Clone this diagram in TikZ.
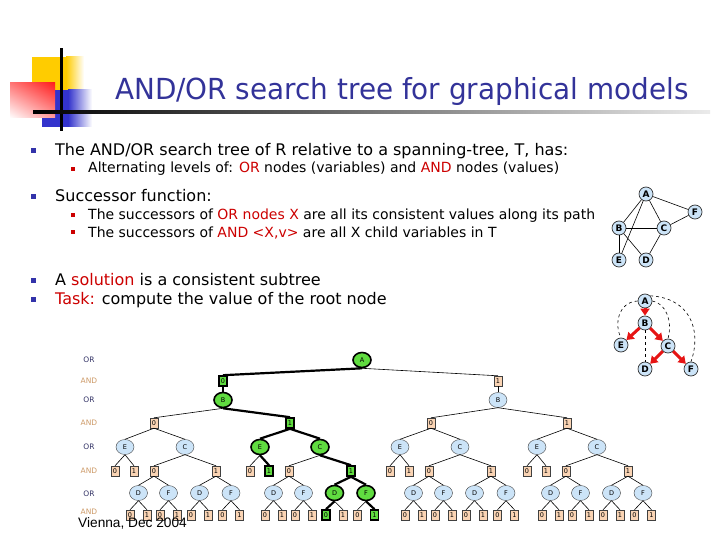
\documentclass[tikz,border=0pt]{standalone}
\usepackage{fontspec}
\setmainfont{DejaVu Sans}
\newfontfamily\titlefont[FakeStretch=0.96]{DejaVu Sans}
\newfontfamily\datefont{Liberation Sans}
\usetikzlibrary{positioning, shapes.geometric, arrows.meta, shadings}
\definecolor{TitleBlue}{RGB}{51, 51, 153}
\definecolor{BulletBlue}{RGB}{51, 51, 170}
\definecolor{HiRed}{RGB}{204, 0, 0}
\definecolor{OrFill}{RGB}{204, 228, 248}
\definecolor{AndFill}{RGB}{250, 212, 180}
\definecolor{SolGreen}{RGB}{96, 220, 64}
\definecolor{OrLabel}{RGB}{51, 51, 102}
\definecolor{AndLabel}{RGB}{204, 153, 102}
\definecolor{ArrowRed}{RGB}{230, 20, 20}
\definecolor{DecoYellow}{RGB}{255, 204, 0}
\definecolor{DecoBlue}{RGB}{51, 51, 204}
\definecolor{DecoRed}{RGB}{255, 30, 30}

\begin{document}
\begin{tikzpicture}[x=1pt, y=-1pt,
    ornode/.style={ellipse, draw=black!75, fill=OrFill, minimum width=18pt, minimum height=15pt, inner sep=0pt, font=\fontsize{6.5}{6.5}\selectfont},
    ornodesol/.style={ornode, draw=black, line width=1.6pt, fill=SolGreen},
    andnode/.style={rectangle, draw=black!75, fill=AndFill, minimum width=8pt, minimum height=10pt, inner sep=0pt, font=\fontsize{6.5}{6.5}\selectfont},
    andnodesol/.style={andnode, draw=black, line width=1.6pt, fill=SolGreen},
    treeline/.style={line width=0.6pt},
    solline/.style={line width=2.2pt},
    levellabel/.style={font=\fontsize{7.5}{8}\selectfont},
    gnode/.style={circle, draw=black!80, line width=0.7pt, fill=OrFill, minimum size=14pt, inner sep=0pt, font=\bfseries\fontsize{9}{9}\selectfont},
    graphedge/.style={line width=0.6pt},
    redarrow/.style={-{Triangle[length=7pt, width=9pt]}, line width=3pt, ArrowRed},
    backedge/.style={dashed, line width=0.6pt},
    bodytext/.style={anchor=base west, inner sep=0pt, font=\fontsize{16}{18}\selectfont},
    subtext/.style={anchor=base west, inner sep=0pt, font=\fontsize{14}{16}\selectfont}]
    \useasboundingbox (0,0) rectangle (720,540);

    % Corner decoration
    \fill[DecoYellow] (32,57) rectangle (66,90);
    \shade[left color=DecoYellow, right color=white] (66,57) rectangle (84,90);
    \fill[DecoBlue] (42,90) rectangle (68,127);
    \shade[left color=DecoBlue, right color=white] (68,90) rectangle (92,127);
    \shade[upper left=DecoRed!60, upper right=DecoRed, lower left=white, lower right=DecoRed!45] (10,83) rectangle (55,118);
    \fill[black] (60,48) rectangle (62.5,131);
    \shade[left color=black, middle color=black!75, right color=black!8] (33,111) rectangle (710,113.5);

    % Title
    \node[anchor=base west, inner sep=0pt, text=TitleBlue, font=\titlefont\fontsize{29}{30}\selectfont] (title) at (115,100) {AND/OR search tree for graphical models};

    % Bullets
    \foreach \y in {151, 197, 280, 299}
        \fill[BulletBlue] (30.5,\y-2.5) rectangle ++(5,5);
    \foreach \y in {169, 215, 232}
        \fill[HiRed] (70.5,\y-2) rectangle ++(4,4);

    % Text
    \node[bodytext] (t1) at (55,156) {The AND/OR search tree of R relative to a spanning-tree, T, has:};
    \node[subtext] (t1a) at (88,173) {Alternating levels of: \textcolor{HiRed}{OR} nodes (variables) and \textcolor{HiRed}{AND} nodes (values)};
    \node[bodytext] (t2) at (55,202) {Successor function:};
    \node[subtext] (t2a) at (88,220) {The successors of \textcolor{HiRed}{OR nodes X} are all its consistent values along its path};
    \node[subtext] (t2b) at (88,237) {The successors of \textcolor{HiRed}{AND <X,v>} are all X child variables in T};
    \node[bodytext] (t3) at (55,285) {A \textcolor{HiRed}{solution} is a consistent subtree};
    \node[bodytext] (t4) at (55,304) {\textcolor{HiRed}{Task:} compute the value of the root node};

    % Primal graph
    \node[gnode] (gA) at (646,194) {A};
    \node[gnode] (gF) at (695,212) {F};
    \node[gnode] (gB) at (619,228) {B};
    \node[gnode] (gC) at (664,228) {C};
    \node[gnode] (gE) at (619,260) {E};
    \node[gnode] (gD) at (646,260) {D};
    \draw[graphedge] (gA) -- (gB);
    \draw[graphedge] (gA) -- (gC);
    \draw[graphedge] (gA) -- (gF);
    \draw[graphedge] (gA) -- (gE);
    \draw[graphedge] (gB) -- (gC);
    \draw[graphedge] (gB) -- (gE);
    \draw[graphedge] (gB) -- (gD);
    \draw[graphedge] (gC) -- (gD);
    \draw[graphedge] (gC) -- (gF);

    % Pseudo tree
    \node[gnode] (pA) at (645,301) {A};
    \node[gnode] (pB) at (645,323) {B};
    \node[gnode] (pE) at (621,345) {E};
    \node[gnode] (pC) at (668,346) {C};
    \node[gnode] (pD) at (645,369) {D};
    \node[gnode] (pF) at (691,369) {F};
    \draw[backedge] (pA.west) .. controls (618,302) and (614,325) .. (pE.north);
    \draw[backedge] (pA.east) .. controls (665,303) and (673,320) .. (pC.north);
    \draw[backedge] (pA.north east) .. controls (690,298) and (702,330) .. (pF.north);
    \draw[backedge] (pB.south) -- (pD.north);
    \draw[redarrow] (pA) -- (pB);
    \draw[redarrow] (pB) -- (pE);
    \draw[redarrow] (pB) -- (pC);
    \draw[redarrow] (pC) -- (pD);
    \draw[redarrow] (pC) -- (pF);

    % Level labels
    \foreach \y/\t/\c in {360/OR/OrLabel, 381/AND/AndLabel, 400/OR/OrLabel, 423/AND/AndLabel,
                          447/OR/OrLabel, 471/AND/AndLabel, 494/OR/OrLabel, 512/AND/AndLabel}
        \node[levellabel, text=\c] (lev\y) at (89,\y) {\t};

    % Top of the AND/OR tree
    \node[ornodesol] (A) at (362,360) {A};
    \node[andnodesol] (a0) at (223,381) {0};
    \node[andnode] (a1) at (498,381) {1};
    \node[ornodesol] (bl) at (223,400) {B};
    \node[ornode] (br) at (498,400) {B};
    \node[andnode] (bl0) at (154,423) {0};
    \node[andnodesol] (bl1) at (290,423) {1};
    \node[andnode] (br0) at (431,423) {0};
    \node[andnode] (br1) at (567,423) {1};
    \draw[solline] (A.south) -- (a0.north);
    \draw[treeline] (A.south) -- (a1.north);
    \draw[solline] (a0) -- (bl);
    \draw[treeline] (a1) -- (br);
    \draw[treeline] (bl.south) -- (bl0.north);
    \draw[solline] (bl.south) -- (bl1.north);
    \draw[treeline] (br.south) -- (br0.north);
    \draw[treeline] (br.south) -- (br1.north);

    % Subtrees below E and C
    \foreach \g/\e/\p in {a/125/bl0, c/400/br0, d/537/br1} {
        \node[ornode] (\g-E) at (\e,447) {E};
        \node[ornode] (\g-C) at (\e+60,447) {C};
        \node[andnode] (\g-E0) at (\e-10,471) {0};
        \node[andnode] (\g-E1) at (\e+9,471) {1};
        \node[andnode] (\g-C0) at (\e+29,471) {0};
        \node[andnode] (\g-C1) at (\e+91,471) {1};
        \draw[treeline] (\p.south) -- (\g-E.north);
        \draw[treeline] (\p.south) -- (\g-C.north);
        \draw[treeline] (\g-E.south) -- (\g-E0.north);
        \draw[treeline] (\g-E.south) -- (\g-E1.north);
        \draw[treeline] (\g-C.south) -- (\g-C0.north);
        \draw[treeline] (\g-C.south) -- (\g-C1.north);
        \foreach \k/\d/\f in {0/13.5/43.5, 1/74.5/106} {
            \node[ornode] (\g-D\k) at (\e+\d,493) {D};
            \node[ornode] (\g-F\k) at (\e+\f,493) {F};
            \node[andnode] (\g-D\k-0) at (\e+\d-8.5,515) {0};
            \node[andnode] (\g-D\k-1) at (\e+\d+8.5,515) {1};
            \node[andnode] (\g-F\k-0) at (\e+\f-8.5,515) {0};
            \node[andnode] (\g-F\k-1) at (\e+\f+8.5,515) {1};
            \draw[treeline] (\g-C\k.south) -- (\g-D\k.north);
            \draw[treeline] (\g-C\k.south) -- (\g-F\k.north);
            \draw[treeline] (\g-D\k.south) -- (\g-D\k-0.north);
            \draw[treeline] (\g-D\k.south) -- (\g-D\k-1.north);
            \draw[treeline] (\g-F\k.south) -- (\g-F\k-0.north);
            \draw[treeline] (\g-F\k.south) -- (\g-F\k-1.north);
        }
    }

    % Solution subtree
    \node[ornodesol] (b-E) at (260,447) {E};
    \node[ornodesol] (b-C) at (320,447) {C};
    \node[andnode] (b-E0) at (250,471) {0};
    \node[andnodesol] (b-E1) at (269,471) {1};
    \node[andnode] (b-C0) at (289,471) {0};
    \node[andnodesol] (b-C1) at (351,471) {1};
    \node[ornode] (b-D0) at (273.5,493) {D};
    \node[ornode] (b-F0) at (303.5,493) {F};
    \node[ornodesol] (b-D1) at (334.5,493) {D};
    \node[ornodesol] (b-F1) at (366,493) {F};
    \node[andnode] (b-D0-0) at (265,515) {0};
    \node[andnode] (b-D0-1) at (282,515) {1};
    \node[andnode] (b-F0-0) at (295,515) {0};
    \node[andnode] (b-F0-1) at (312,515) {1};
    \node[andnodesol] (b-D1-0) at (326,515) {0};
    \node[andnode] (b-D1-1) at (343,515) {1};
    \node[andnode] (b-F1-0) at (357.5,515) {0};
    \node[andnodesol] (b-F1-1) at (374.5,515) {1};
    \draw[solline] (bl1.south) -- (b-E.north);
    \draw[solline] (bl1.south) -- (b-C.north);
    \draw[treeline] (b-E.south) -- (b-E0.north);
    \draw[solline] (b-E.south) -- (b-E1.north);
    \draw[treeline] (b-C.south) -- (b-C0.north);
    \draw[solline] (b-C.south) -- (b-C1.north);
    \draw[treeline] (b-C0.south) -- (b-D0.north);
    \draw[treeline] (b-C0.south) -- (b-F0.north);
    \draw[solline] (b-C1.south) -- (b-D1.north);
    \draw[solline] (b-C1.south) -- (b-F1.north);
    \draw[treeline] (b-D0.south) -- (b-D0-0.north);
    \draw[treeline] (b-D0.south) -- (b-D0-1.north);
    \draw[treeline] (b-F0.south) -- (b-F0-0.north);
    \draw[treeline] (b-F0.south) -- (b-F0-1.north);
    \draw[solline] (b-D1.south) -- (b-D1-0.north);
    \draw[treeline] (b-D1.south) -- (b-D1-1.north);
    \draw[treeline] (b-F1.south) -- (b-F1-0.north);
    \draw[solline] (b-F1.south) -- (b-F1-1.north);

    % Footer
    \node[anchor=base west, inner sep=0pt, font=\datefont\fontsize{13.7}{14}\selectfont] (place) at (78,527) {Vienna, Dec 2004};
\end{tikzpicture}
\end{document}
